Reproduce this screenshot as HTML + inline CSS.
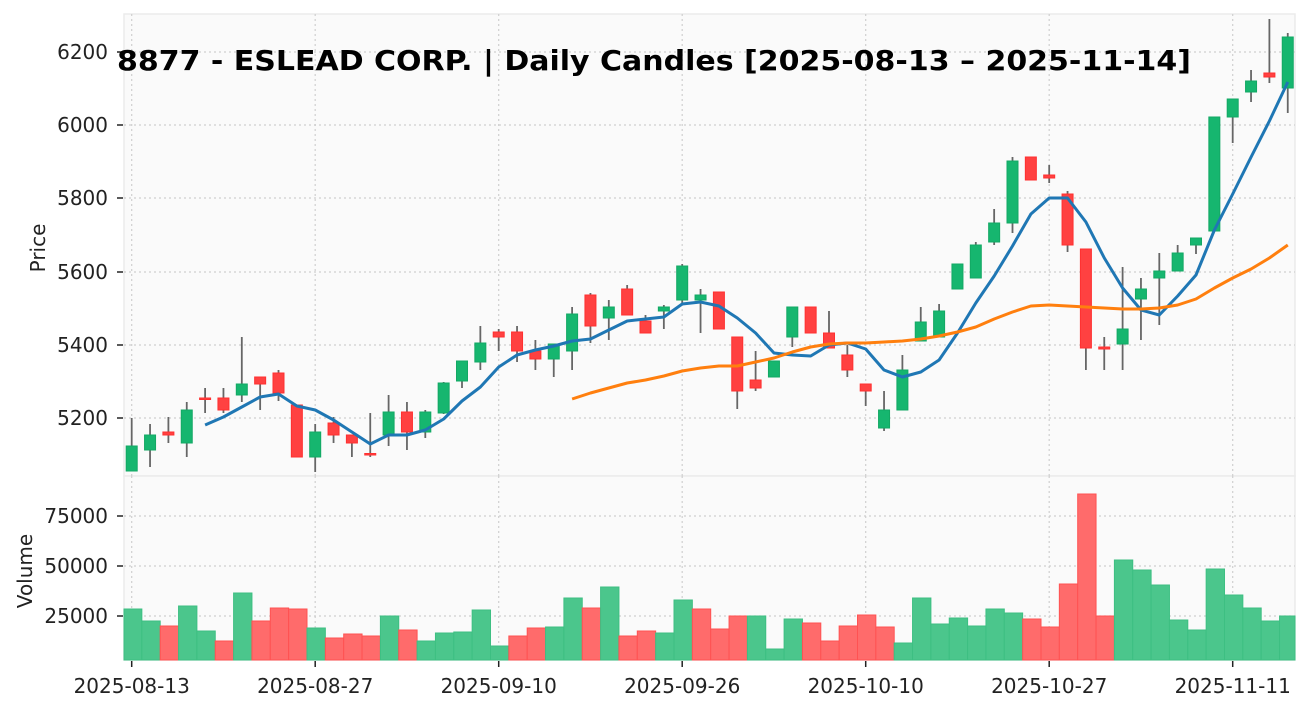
<!DOCTYPE html>
<html><head><meta charset="utf-8"><style>
html,body{margin:0;padding:0;background:#fff;}
svg{display:block;font-family:"DejaVu Sans","Liberation Sans",sans-serif;}
</style></head><body>
<svg id="s" width="1310" height="711" viewBox="0 0 1310 711" xmlns="http://www.w3.org/2000/svg">
<rect x="124" y="14" width="1171" height="462" fill="#fafafa" stroke="#ebebeb" stroke-width="1.5"/>
<rect x="124" y="476" width="1171" height="184" fill="#fafafa" stroke="#ebebeb" stroke-width="1.5"/>
<g id="grid" stroke="#cfcfcf" stroke-width="1.2" stroke-dasharray="2,3"></g>
<g id="vol"></g>
<g id="cdl"></g>
<g id="ma"></g>
<g id="ax" font-size="20" fill="#222"></g>
<text x="0" y="0" font-size="20" fill="#222" text-anchor="middle" transform="translate(45 248) rotate(-90)">Price</text>
<text x="0" y="0" font-size="20" fill="#222" text-anchor="middle" transform="translate(32 571) rotate(-90)">Volume</text>
<text x="117" y="70" font-size="28" font-weight="bold" fill="#000" textLength="1074" lengthAdjust="spacingAndGlyphs">8877 - ESLEAD CORP. | Daily Candles [2025-08-13 – 2025-11-14]</text>
</svg>
<script>
const NS="http://www.w3.org/2000/svg";
function el(p,t,a,txt){const e=document.createElementNS(NS,t);for(const k in a)e.setAttribute(k,a[k]);if(txt!=null)e.textContent=txt;document.getElementById(p).appendChild(e);return e;}
const X=i=>131.7+18.35*i;
const C=[[446,471,418,471,'g'],[435,450,424,467,'g'],[432,435,417,443,'r'],[410,443,402,457,'g'],[398,399,388,413,'r'],[398,410,388,413,'r'],[384,395,337,402,'g'],[377,384,377,410,'r'],[373,393,370,401,'r'],[405,457,405,457,'r'],[432,457,424,472,'g'],[423,435,417,443,'r'],[435,443,435,457,'r'],[453.5,455,413,457,'r'],[412,435,395,446,'g'],[412,432,402,450,'r'],[412,432,410,438,'g'],[383,413,382,414,'g'],[361,381,361,388,'g'],[343,362,326,370,'g'],[332,337,329,351,'r'],[332,351,326,362,'r'],[351,359,340,370,'r'],[344,359,344,377,'g'],[314,351,307,370,'g'],[295,326,293,343,'r'],[307,318,300,340,'g'],[289,315,285,315,'r'],[321,333,315,333,'r'],[307,311,305,329,'g'],[266,300,264,305,'g'],[295,300,289,333,'g'],[292,329,292,329,'r'],[337,391,337,409,'r'],[380,388,351,391,'r'],[361,377,361,377,'g'],[307,337,307,347,'g'],[307,333,307,333,'r'],[333,348,311,348,'r'],[355,370,345,377,'r'],[384,391,384,406,'r'],[410,428,391,431,'g'],[370,410,355,410,'g'],[322,341,307,341,'g'],[311,337,304,337,'g'],[264,289,264,289,'g'],[245,278,242,278,'g'],[223,242,209,245,'g'],[161,223,157,233,'g'],[157,180,157,180,'r'],[175,178,165,183,'r'],[194,245,191,252,'r'],[249,348,249,370,'r'],[347,349,337,370,'r'],[329,344,267,370,'g'],[289,299,278,340,'g'],[271,278,253,325,'g'],[253,271,245,271,'g'],[238,245,238,254,'g'],[117,231,117,231,'g'],[99,117,99,143,'g'],[81,92,70,102,'g'],[73,77,19,83,'r'],[37,88,33,113,'g']];
const V=[[609,'g'],[621,'g'],[626,'r'],[606,'g'],[631,'g'],[641,'r'],[593,'g'],[621,'r'],[608,'r'],[609,'r'],[628,'g'],[638,'r'],[634,'r'],[636,'r'],[616,'g'],[630,'r'],[641,'g'],[633,'g'],[632,'g'],[610,'g'],[646,'g'],[636,'r'],[628,'r'],[627,'g'],[598,'g'],[608,'r'],[587,'g'],[636,'r'],[631,'r'],[633,'g'],[600,'g'],[609,'r'],[629,'r'],[616,'r'],[616,'g'],[649,'g'],[619,'g'],[623,'r'],[641,'r'],[626,'r'],[615,'r'],[627,'r'],[643,'g'],[598,'g'],[624,'g'],[618,'g'],[626,'g'],[609,'g'],[613,'g'],[619,'r'],[627,'r'],[584,'r'],[494,'r'],[616,'r'],[560,'g'],[570,'g'],[585,'g'],[620,'g'],[630,'g'],[569,'g'],[595,'g'],[608,'g'],[621,'g'],[616,'g']];
const B=[,,,,425,417,407,397,394,406,410,420,432,444,435,435,430,419,401,387,367,355,350,346,341,339,330,321,319,317,304,302,306,318,333,353,355,356,345,343,349,370,377,372,360,333,303,276,246,214,198,198,222,258,288,310,315,296,275,230,194,157,121,82];
const O={24:399,25:393,26:388,27:383,28:380,29:376,30:371,31:368,32:366,33:366,34:362,35:358,36:352,37:347,38:344,39:343,40:343,41:342,42:341,43:339,44:336,45:332,46:327,47:319,48:312,49:306,50:305,51:306,52:307,53:308,54:309,55:309,56:308,57:305,58:299,59:288,60:278,61:269,62:258,63:245};
[52,125,198,272,345,418,516,566,616].forEach(y=>el('grid','line',{x1:124,x2:1295,y1:y,y2:y}));
[0,10,20,30,40,50,60].forEach(i=>{el('grid','line',{x1:X(i),x2:X(i),y1:14,y2:476});el('grid','line',{x1:X(i),x2:X(i),y1:476,y2:660});});
V.forEach((v,i)=>{let x0=Math.max(124,X(i)-8.2),x1=Math.min(1295,X(i)+10.15);
el('vol','rect',{x:x0,y:v[0],width:x1-x0,height:660-v[0],fill:v[1]=='g'?'#4bc68c':'#ff6b6b',stroke:v[1]=='g'?'#3dbf82':'#ff5252','stroke-width':1});});
C.forEach((c,i)=>{const x=X(i);const col=c[4]=='g'?'#16b66f':'#ff4141';
el('cdl','line',{x1:x,x2:x,y1:c[2],y2:c[3],stroke:'#666','stroke-width':1.8});
el('cdl','rect',{x:x-5.5,y:c[0],width:11,height:Math.max(1.5,c[1]-c[0]),fill:col,stroke:c[4]=='g'?'#13a864':'#ff3030','stroke-width':1});});
let p=[];B.forEach((y,i)=>{if(y!=null)p.push(X(i).toFixed(1)+','+y)});
el('ma','polyline',{points:p.join(' '),fill:'none',stroke:'#1f77b4','stroke-width':3,'stroke-linejoin':'round'});
p=[];for(const k in O)p.push(X(+k).toFixed(1)+','+O[k]);
el('ma','polyline',{points:p.join(' '),fill:'none',stroke:'#ff7f0e','stroke-width':3,'stroke-linejoin':'round'});
[[52,'6200'],[125,'6000'],[198,'5800'],[272,'5600'],[345,'5400'],[418,'5200'],[516,'75000'],[566,'50000'],[616,'25000']].forEach(t=>{
el('ax','line',{x1:117,x2:123,y1:t[0],y2:t[0],stroke:'#222','stroke-width':1.5});
el('ax','text',{x:108,y:t[0]+7,'text-anchor':'end'},t[1]);});
[[0,'2025-08-13'],[10,'2025-08-27'],[20,'2025-09-10'],[30,'2025-09-26'],[40,'2025-10-10'],[50,'2025-10-27'],[60,'2025-11-11']].forEach(t=>{
el('ax','line',{x1:X(t[0]),x2:X(t[0]),y1:661,y2:667,stroke:'#222','stroke-width':1.5});
el('ax','text',{x:X(t[0]),y:693,'text-anchor':'middle'},t[1]);});
</script>
</body></html>
